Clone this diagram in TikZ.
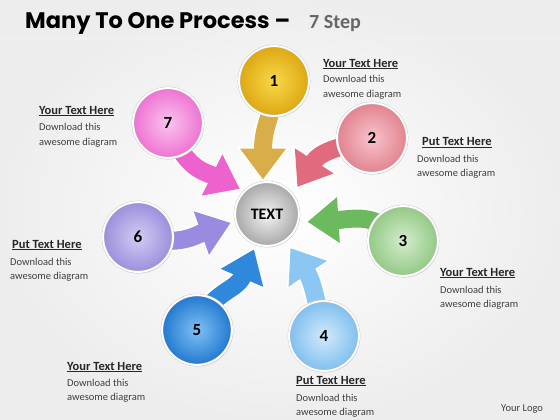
\documentclass[tikz,border=0pt]{standalone}
\usepackage{fontspec}
\setmainfont{Carlito}
\newfontfamily\titlefont{Poppins}
\usetikzlibrary{arrows.meta,shadows}
\definecolor{txtgray}{HTML}{404040}
\definecolor{c1in}{HTML}{F9D84A}\definecolor{c1out}{HTML}{DDA812}\definecolor{a1}{HTML}{D9AE48}
\definecolor{c2in}{HTML}{F7C4CC}\definecolor{c2out}{HTML}{E2838F}\definecolor{a2}{HTML}{E06A7E}
\definecolor{c3in}{HTML}{D4ECCD}\definecolor{c3out}{HTML}{93C985}\definecolor{a3}{HTML}{6DBA5E}
\definecolor{c4in}{HTML}{D2EAFB}\definecolor{c4out}{HTML}{80BFEE}\definecolor{a4}{HTML}{8CC6F2}
\definecolor{c5in}{HTML}{7FC0F4}\definecolor{c5out}{HTML}{2279D0}\definecolor{a5}{HTML}{2F88DB}
\definecolor{c6in}{HTML}{D2CCF4}\definecolor{c6out}{HTML}{9C8EDC}\definecolor{a6}{HTML}{9B8BE0}
\definecolor{c7in}{HTML}{FAC4EE}\definecolor{c7out}{HTML}{EE72D2}\definecolor{a7}{HTML}{EE62CE}
\definecolor{c0in}{HTML}{F4F4F4}\definecolor{c0out}{HTML}{A8A8A8}
\begin{document}
\begin{tikzpicture}[x=1pt,y=-1pt,
  ballnode/.style 2 args={circle, minimum size=70pt, inner sep=0pt, shading=radial,
    inner color=#1, outer color=#2, draw=black!22, line width=0.4pt, double=white, double distance=1.8pt,
    drop shadow={opacity=0.2, shadow xshift=1pt, shadow yshift=-1.5pt},
    font=\bfseries\fontsize{17}{17}\selectfont, text=black},
  arrowbase/.style={line width=22pt, draw=white, -{Triangle[length=35pt,width=50pt]}},
  arrowfill/.style={line width=18pt, draw=#1, shorten >=2.5pt, -{Triangle[length=31pt,width=44pt]}},
  headtext/.style={anchor=base west, font=\bfseries\fontsize{12.5}{14}\selectfont, text=txtgray!60!black, inner sep=0pt},
  bodytext/.style={anchor=base west, font=\fontsize{10.5}{12}\selectfont, text=txtgray, inner sep=0pt}
]
\useasboundingbox (0,0) rectangle (560,420);
\shade[inner color=white, outer color=black!7] (0,0) rectangle (560,420);
\fill[black!6] (0,37) rectangle (560,40);

% title
\node[anchor=base west, inner sep=0pt, font=\titlefont\bfseries\fontsize{22.5}{22}\selectfont] (title) at (25,29) {Many To One Process –};
\node[anchor=base west, inner sep=0pt, font=\bfseries\fontsize{20}{20}\selectfont, text=black!60] (sub) at (309,29) {7 Step};

% centres
\coordinate (p0) at (267,214);
\coordinate (p1) at (274,81);
\coordinate (p2) at (372,138);
\coordinate (p3) at (403,241);
\coordinate (p4) at (324,336);
\coordinate (p5) at (197,330);
\coordinate (p6) at (138,237);
\coordinate (p7) at (168,123);

% arrow tips
\coordinate (t1) at (263,182);
\coordinate (t2) at (296,189);
\coordinate (t3) at (305,222);
\coordinate (t4) at (289,246);
\coordinate (t5) at (255,247);
\coordinate (t6) at (233,222);
\coordinate (t7) at (242,190);

% arrows (outline)
\draw[arrowbase] (p1) .. controls (274,118) and (263,122) .. (t1);
\draw[arrowbase] (p2) .. controls (335,148) and (320,152) .. (t2);
\draw[arrowbase] (p3) .. controls (375,212) and (355,219) .. (t3);
\draw[arrowbase] (p4) .. controls (316,298) and (312,280) .. (t4);
\draw[arrowbase] (p5) .. controls (208,292) and (236,292) .. (t5);
\draw[arrowbase] (p6) .. controls (180,247) and (196,235) .. (t6);
\draw[arrowbase] (p7) .. controls (184,170) and (206,172) .. (t7);
% arrows (fill)
\draw[arrowfill=a1] (p1) .. controls (274,118) and (263,122) .. (t1);
\draw[arrowfill=a2] (p2) .. controls (335,148) and (320,152) .. (t2);
\draw[arrowfill=a3] (p3) .. controls (375,212) and (355,219) .. (t3);
\draw[arrowfill=a4] (p4) .. controls (316,298) and (312,280) .. (t4);
\draw[arrowfill=a5] (p5) .. controls (208,292) and (236,292) .. (t5);
\draw[arrowfill=a6] (p6) .. controls (180,247) and (196,235) .. (t6);
\draw[arrowfill=a7] (p7) .. controls (184,170) and (206,172) .. (t7);

% balls
\node[ballnode={c1in}{c1out}] (n1) at (p1) {1};
\node[ballnode={c2in}{c2out}] (n2) at (p2) {2};
\node[ballnode={c3in}{c3out}] (n3) at (p3) {3};
\node[ballnode={c4in}{c4out}] (n4) at (p4) {4};
\node[ballnode={c5in}{c5out}] (n5) at (p5) {5};
\node[ballnode={c6in}{c6out}] (n6) at (p6) {6};
\node[ballnode={c7in}{c7out}] (n7) at (p7) {7};
\node[ballnode={c0in}{c0out}, minimum size=64pt, font=\bfseries\fontsize{16}{16}\selectfont] (n0) at (p0) {TEXT};

% labels
\node[headtext] (h1) at (323,67) {\underline{Your Text Here}};
\node[bodytext] (b1) at (323,83) {Download this};
\node[bodytext] (c1) at (323,97.5) {awesome diagram};
\node[headtext] (h2) at (422,146) {\underline{Put Text Here}};
\node[bodytext] (b2) at (417,162) {Download this};
\node[bodytext] (c2) at (417,176.5) {awesome diagram};
\node[headtext] (h3) at (440,276) {\underline{Your Text Here}};
\node[bodytext] (b3) at (440,293) {Download this};
\node[bodytext] (c3) at (440,307.5) {awesome diagram};
\node[headtext] (h4) at (296,384) {\underline{Put Text Here}};
\node[bodytext] (b4) at (296,401) {Download this};
\node[bodytext] (c4) at (296,415.5) {awesome diagram};
\node[headtext] (h5) at (67,370) {\underline{Your Text Here}};
\node[bodytext] (b5) at (67,386) {Download this};
\node[bodytext] (c5) at (67,400.5) {awesome diagram};
\node[headtext] (h6) at (12,248) {\underline{Put Text Here}};
\node[bodytext] (b6) at (10,265) {Download this};
\node[bodytext] (c6) at (10,279.5) {awesome diagram};
\node[headtext] (h7) at (39,114) {\underline{Your Text Here}};
\node[bodytext] (b7) at (39,131) {Download this};
\node[bodytext] (c7) at (39,145.5) {awesome diagram};
\node[anchor=base west, inner sep=0pt, font=\fontsize{10.5}{12}\selectfont, text=txtgray] (logo) at (501,411) {Your Logo};
\end{tikzpicture}
\end{document}
